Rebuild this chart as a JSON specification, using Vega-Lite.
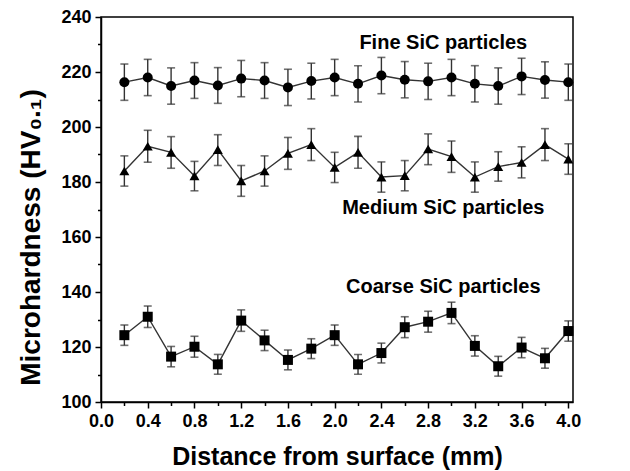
{
  "$schema": "https://vega.github.io/schema/vega-lite/v6.json",
  "width": 472,
  "height": 385,
  "autosize": "none",
  "padding": {"left": 101, "top": 17, "right": 57, "bottom": 69},
  "background": "white",
  "config": {
    "font": "Liberation Sans",
    "view": {"stroke": "black", "strokeWidth": 1.5},
    "axis": {
      "domainColor": "black", "domainWidth": 1.5, "tickColor": "black", "tickWidth": 1.5,
      "labelFont": "Liberation Sans", "labelFontWeight": "bold", "labelFontSize": 18, "labelColor": "black",
      "titleFont": "Liberation Sans", "titleFontWeight": "bold", "titleFontSize": 25, "titleColor": "black",
      "grid": false
    }
  },
  "datasets": {
    "pts": [
      {"series": "Fine", "x": 0.2, "y": 216.3, "lo": 209.7, "hi": 222.9},
      {"series": "Fine", "x": 0.4, "y": 218.0, "lo": 211.4, "hi": 224.6},
      {"series": "Fine", "x": 0.6, "y": 214.9, "lo": 208.3, "hi": 221.5},
      {"series": "Fine", "x": 0.8, "y": 216.9, "lo": 210.4, "hi": 223.4},
      {"series": "Fine", "x": 1.0, "y": 215.1, "lo": 208.6, "hi": 221.6},
      {"series": "Fine", "x": 1.2, "y": 217.6, "lo": 211.0, "hi": 224.2},
      {"series": "Fine", "x": 1.4, "y": 216.9, "lo": 210.4, "hi": 223.4},
      {"series": "Fine", "x": 1.6, "y": 214.4, "lo": 207.8, "hi": 221.0},
      {"series": "Fine", "x": 1.8, "y": 216.7, "lo": 210.2, "hi": 223.2},
      {"series": "Fine", "x": 2.0, "y": 218.0, "lo": 211.4, "hi": 224.6},
      {"series": "Fine", "x": 2.2, "y": 215.7, "lo": 209.1, "hi": 222.3},
      {"series": "Fine", "x": 2.4, "y": 218.7, "lo": 212.1, "hi": 225.3},
      {"series": "Fine", "x": 2.6, "y": 217.2, "lo": 210.6, "hi": 223.8},
      {"series": "Fine", "x": 2.8, "y": 216.6, "lo": 210.0, "hi": 223.2},
      {"series": "Fine", "x": 3.0, "y": 218.0, "lo": 211.4, "hi": 224.6},
      {"series": "Fine", "x": 3.2, "y": 215.7, "lo": 209.1, "hi": 222.3},
      {"series": "Fine", "x": 3.4, "y": 214.9, "lo": 208.3, "hi": 221.5},
      {"series": "Fine", "x": 3.6, "y": 218.4, "lo": 211.8, "hi": 225.0},
      {"series": "Fine", "x": 3.8, "y": 217.1, "lo": 210.5, "hi": 223.7},
      {"series": "Fine", "x": 4.0, "y": 216.3, "lo": 209.7, "hi": 222.9},
      {"series": "Medium", "x": 0.2, "y": 184.0, "lo": 178.5, "hi": 189.5},
      {"series": "Medium", "x": 0.4, "y": 193.0, "lo": 187.2, "hi": 198.8},
      {"series": "Medium", "x": 0.6, "y": 190.8, "lo": 185.0, "hi": 196.5},
      {"series": "Medium", "x": 0.8, "y": 182.2, "lo": 176.8, "hi": 187.5},
      {"series": "Medium", "x": 1.0, "y": 191.8, "lo": 186.0, "hi": 197.2},
      {"series": "Medium", "x": 1.2, "y": 180.4, "lo": 174.8, "hi": 186.0},
      {"series": "Medium", "x": 1.4, "y": 184.0, "lo": 178.5, "hi": 189.5},
      {"series": "Medium", "x": 1.6, "y": 190.4, "lo": 184.6, "hi": 196.2},
      {"series": "Medium", "x": 1.8, "y": 193.6, "lo": 187.8, "hi": 199.4},
      {"series": "Medium", "x": 2.0, "y": 185.3, "lo": 179.8, "hi": 190.8},
      {"series": "Medium", "x": 2.2, "y": 190.8, "lo": 185.0, "hi": 196.6},
      {"series": "Medium", "x": 2.4, "y": 181.8, "lo": 176.3, "hi": 187.3},
      {"series": "Medium", "x": 2.6, "y": 182.3, "lo": 176.8, "hi": 187.8},
      {"series": "Medium", "x": 2.8, "y": 192.0, "lo": 186.3, "hi": 197.5},
      {"series": "Medium", "x": 3.0, "y": 189.2, "lo": 183.5, "hi": 194.9},
      {"series": "Medium", "x": 3.2, "y": 181.8, "lo": 176.3, "hi": 187.3},
      {"series": "Medium", "x": 3.4, "y": 185.6, "lo": 180.3, "hi": 191.0},
      {"series": "Medium", "x": 3.6, "y": 187.1, "lo": 181.5, "hi": 192.8},
      {"series": "Medium", "x": 3.8, "y": 193.6, "lo": 187.8, "hi": 199.4},
      {"series": "Medium", "x": 4.0, "y": 188.3, "lo": 182.8, "hi": 193.9},
      {"series": "Coarse", "x": 0.2, "y": 124.3, "lo": 120.6, "hi": 128.0},
      {"series": "Coarse", "x": 0.4, "y": 131.0, "lo": 127.1, "hi": 134.9},
      {"series": "Coarse", "x": 0.6, "y": 116.5, "lo": 112.8, "hi": 120.2},
      {"series": "Coarse", "x": 0.8, "y": 120.1, "lo": 116.3, "hi": 123.9},
      {"series": "Coarse", "x": 1.0, "y": 113.7, "lo": 110.1, "hi": 117.3},
      {"series": "Coarse", "x": 1.2, "y": 129.6, "lo": 125.7, "hi": 133.5},
      {"series": "Coarse", "x": 1.4, "y": 122.4, "lo": 118.7, "hi": 126.1},
      {"series": "Coarse", "x": 1.6, "y": 115.3, "lo": 111.7, "hi": 118.9},
      {"series": "Coarse", "x": 1.8, "y": 119.4, "lo": 115.8, "hi": 123.0},
      {"series": "Coarse", "x": 2.0, "y": 124.3, "lo": 120.6, "hi": 128.0},
      {"series": "Coarse", "x": 2.2, "y": 113.7, "lo": 110.1, "hi": 117.3},
      {"series": "Coarse", "x": 2.4, "y": 117.8, "lo": 114.2, "hi": 121.4},
      {"series": "Coarse", "x": 2.6, "y": 127.2, "lo": 123.4, "hi": 131.0},
      {"series": "Coarse", "x": 2.8, "y": 129.2, "lo": 125.4, "hi": 133.0},
      {"series": "Coarse", "x": 3.0, "y": 132.4, "lo": 128.5, "hi": 136.3},
      {"series": "Coarse", "x": 3.2, "y": 120.4, "lo": 116.7, "hi": 124.1},
      {"series": "Coarse", "x": 3.4, "y": 113.0, "lo": 109.4, "hi": 116.6},
      {"series": "Coarse", "x": 3.6, "y": 119.8, "lo": 116.1, "hi": 123.5},
      {"series": "Coarse", "x": 3.8, "y": 115.9, "lo": 112.3, "hi": 119.5},
      {"series": "Coarse", "x": 4.0, "y": 125.8, "lo": 122.1, "hi": 129.5}
    ],
    "labels": [
      {"x": 2.93, "y": 230.7, "label": "Fine SiC particles"},
      {"x": 2.93, "y": 170.6, "label": "Medium SiC particles"},
      {"x": 2.93, "y": 141.8, "label": "Coarse SiC particles"}
    ]
  },
  "encoding": {
    "x": {
      "field": "x", "type": "quantitative",
      "scale": {"domain": [0, 4.04], "nice": false, "zero": false},
      "axis": {
        "title": "Distance from surface (mm)",
        "values": [0, 0.2, 0.4, 0.6, 0.8, 1.0, 1.2, 1.4, 1.6, 1.8, 2.0, 2.2, 2.4, 2.6, 2.8, 3.0, 3.2, 3.4, 3.6, 3.8, 4.0],
        "labelExpr": "round(datum.value*10) % 4 == 0 ? format(datum.value, '.1f') : ''",
        "tickSize": {"condition": {"test": "round(datum.value*10) % 4 == 0", "value": 6}, "value": 3.5},
        "labelPadding": 4,
        "labelFlush": false,
        "labelOverlap": false,
        "titlePadding": 14
      }
    },
    "y": {
      "field": "y", "type": "quantitative",
      "scale": {"domain": [100, 240], "nice": false, "zero": false},
      "axis": {
        "title": "Microhardness (HV₀.₁)",
        "titleFontSize": 28,
        "values": [100, 110, 120, 130, 140, 150, 160, 170, 180, 190, 200, 210, 220, 230, 240],
        "labelExpr": "datum.value % 20 == 0 ? datum.label : ''",
        "tickSize": {"condition": {"test": "datum.value % 20 == 0", "value": 6}, "value": 3.5},
        "labelPadding": 4,
        "labelFlush": false,
        "labelOverlap": false,
        "titleX": -70,
        "titleY": 220,
        "titleBaseline": "middle",
        "titleAlign": "center",
        "titleAngle": -90
      }
    }
  },
  "layer": [
    {
      "data": {"name": "pts"},
      "mark": {"type": "line", "color": "#333333", "strokeWidth": 1.4},
      "encoding": {"detail": {"field": "series"}}
    },
    {
      "data": {"name": "pts"},
      "mark": {"type": "rule", "color": "#333333", "strokeWidth": 1.4},
      "encoding": {"y": {"field": "lo", "type": "quantitative"}, "y2": {"field": "hi"}}
    },
    {
      "data": {"name": "pts"},
      "mark": {"type": "tick", "orient": "horizontal", "color": "#333333", "size": 8, "thickness": 1.6},
      "encoding": {"y": {"field": "lo", "type": "quantitative"}}
    },
    {
      "data": {"name": "pts"},
      "mark": {"type": "tick", "orient": "horizontal", "color": "#333333", "size": 8, "thickness": 1.6},
      "encoding": {"y": {"field": "hi", "type": "quantitative"}}
    },
    {
      "data": {"name": "pts"},
      "mark": {"type": "point", "filled": true, "color": "black", "opacity": 1, "size": 100},
      "encoding": {
        "shape": {
          "field": "series", "type": "nominal",
          "scale": {"domain": ["Fine", "Medium", "Coarse"], "range": ["circle", "triangle-up", "square"]},
          "legend": null
        }
      }
    },
    {
      "data": {"name": "labels"},
      "mark": {"type": "text", "font": "Liberation Sans", "fontWeight": "bold", "fontSize": 20, "color": "black", "align": "center", "baseline": "middle"},
      "encoding": {"text": {"field": "label"}}
    }
  ]
}
